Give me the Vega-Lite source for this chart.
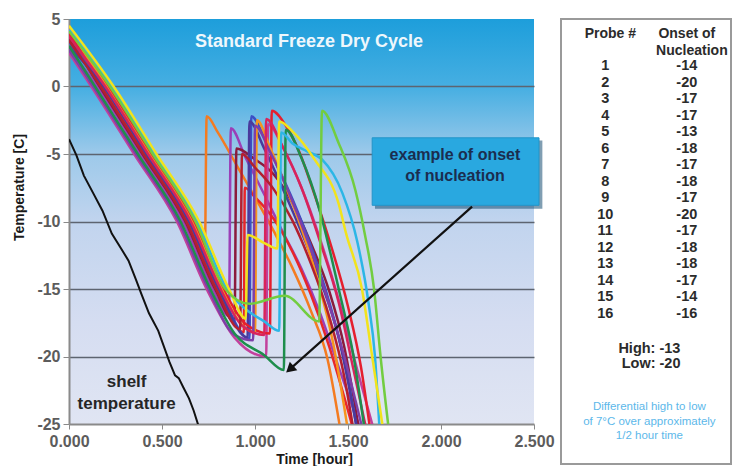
{
  "$schema": "https://vega.github.io/schema/vega-lite/v6.json",
  "padding": {"left": 12, "top": 11, "right": 0, "bottom": 0},
  "background": "white",
  "spacing": 27,
  "bounds": "flush",
  "config": {"font": "Liberation Sans", "view": {"stroke": null}},
  "datasets": {
    "one": [{}],
    "probes": [
      {"p":"P1","t":0,"T":4.0},{"p":"P1","t":0.06,"T":2.8},{"p":"P1","t":0.175,"T":0},{"p":"P1","t":0.405,"T":-5},{"p":"P1","t":0.635,"T":-10},{"p":"P1","t":0.73,"T":-12.9},{"p":"P1","t":0.74,"T":-2.2},{"p":"P1","t":0.8,"T":-3.4},{"p":"P1","t":0.9,"T":-5.8},{"p":"P1","t":1.0,"T":-8.2},{"p":"P1","t":1.1,"T":-10.7},{"p":"P1","t":1.2,"T":-13.4},{"p":"P1","t":1.3,"T":-16.6},{"p":"P1","t":1.39,"T":-20.2},{"p":"P1","t":1.46,"T":-25.5},
      {"p":"P2","t":0,"T":2.8},{"p":"P2","t":0.153,"T":0},{"p":"P2","t":0.383,"T":-5},{"p":"P2","t":0.613,"T":-10},{"p":"P2","t":0.773,"T":-15},{"p":"P2","t":0.86,"T":-17.0},{"p":"P2","t":0.87,"T":-3.1},{"p":"P2","t":0.95,"T":-5.3},{"p":"P2","t":1.05,"T":-8},{"p":"P2","t":1.15,"T":-10.8},{"p":"P2","t":1.25,"T":-13.5},{"p":"P2","t":1.35,"T":-16.8},{"p":"P2","t":1.45,"T":-20.8},{"p":"P2","t":1.57,"T":-25.5},
      {"p":"P3","t":0,"T":3.6},{"p":"P3","t":0.165,"T":0},{"p":"P3","t":0.395,"T":-5},{"p":"P3","t":0.625,"T":-10},{"p":"P3","t":0.785,"T":-15},{"p":"P3","t":0.89,"T":-17.4},{"p":"P3","t":0.9,"T":-4.6},{"p":"P3","t":1.0,"T":-5.4},{"p":"P3","t":1.1,"T":-6.5},{"p":"P3","t":1.2,"T":-8.6},{"p":"P3","t":1.3,"T":-11.6},{"p":"P3","t":1.4,"T":-15.2},{"p":"P3","t":1.48,"T":-19.3},{"p":"P3","t":1.56,"T":-25.5},
      {"p":"P4","t":0,"T":3.9},{"p":"P4","t":0.18,"T":0},{"p":"P4","t":0.41,"T":-5},{"p":"P4","t":0.64,"T":-10},{"p":"P4","t":0.8,"T":-15},{"p":"P4","t":0.94,"T":-18.2},{"p":"P4","t":0.945,"T":-7.5},{"p":"P4","t":1.0,"T":-8.2},{"p":"P4","t":1.1,"T":-9.8},{"p":"P4","t":1.2,"T":-12.2},{"p":"P4","t":1.3,"T":-15.4},{"p":"P4","t":1.4,"T":-19.3},{"p":"P4","t":1.5,"T":-24},{"p":"P4","t":1.53,"T":-25.5},
      {"p":"P5","t":0,"T":3.3},{"p":"P5","t":0.19,"T":0},{"p":"P5","t":0.42,"T":-5},{"p":"P5","t":0.65,"T":-10},{"p":"P5","t":0.81,"T":-15},{"p":"P5","t":0.97,"T":-18.7},{"p":"P5","t":0.98,"T":-2.2},{"p":"P5","t":1.05,"T":-3.8},{"p":"P5","t":1.1,"T":-5.3},{"p":"P5","t":1.2,"T":-8.3},{"p":"P5","t":1.3,"T":-11.8},{"p":"P5","t":1.4,"T":-16},{"p":"P5","t":1.48,"T":-20.3},{"p":"P5","t":1.55,"T":-25.5},
      {"p":"P6","t":0,"T":3.0},{"p":"P6","t":0.185,"T":0},{"p":"P6","t":0.415,"T":-5},{"p":"P6","t":0.645,"T":-10},{"p":"P6","t":0.805,"T":-15},{"p":"P6","t":0.96,"T":-18.6},{"p":"P6","t":0.97,"T":-2.6},{"p":"P6","t":1.05,"T":-4.6},{"p":"P6","t":1.15,"T":-7.6},{"p":"P6","t":1.25,"T":-10.8},{"p":"P6","t":1.35,"T":-14.3},{"p":"P6","t":1.45,"T":-18.6},{"p":"P6","t":1.55,"T":-25.5},
      {"p":"P7","t":0,"T":2.5},{"p":"P7","t":0.12,"T":0},{"p":"P7","t":0.35,"T":-5},{"p":"P7","t":0.58,"T":-10},{"p":"P7","t":0.74,"T":-15},{"p":"P7","t":0.89,"T":-18.6},{"p":"P7","t":1.06,"T":-20},{"p":"P7","t":1.07,"T":-2.8},{"p":"P7","t":1.15,"T":-4.5},{"p":"P7","t":1.25,"T":-7.5},{"p":"P7","t":1.35,"T":-11.3},{"p":"P7","t":1.45,"T":-15.8},{"p":"P7","t":1.55,"T":-21},{"p":"P7","t":1.64,"T":-25.5},
      {"p":"P8","t":0,"T":4.0},{"p":"P8","t":0.21,"T":0},{"p":"P8","t":0.44,"T":-5},{"p":"P8","t":0.67,"T":-10},{"p":"P8","t":0.83,"T":-15},{"p":"P8","t":0.95,"T":-17.6},{"p":"P8","t":1.08,"T":-18.3},{"p":"P8","t":1.09,"T":-1.8},{"p":"P8","t":1.17,"T":-3},{"p":"P8","t":1.24,"T":-4.9},{"p":"P8","t":1.31,"T":-7.6},{"p":"P8","t":1.4,"T":-11.4},{"p":"P8","t":1.5,"T":-16.3},{"p":"P8","t":1.57,"T":-20.8},{"p":"P8","t":1.62,"T":-25.5},
      {"p":"P13","t":0,"T":4.3},{"p":"P13","t":0.2,"T":0},{"p":"P13","t":0.43,"T":-5},{"p":"P13","t":0.66,"T":-10},{"p":"P13","t":0.82,"T":-15},{"p":"P13","t":0.92,"T":-17.5},{"p":"P13","t":1.0,"T":-18.2},{"p":"P13","t":1.01,"T":-2.5},{"p":"P13","t":1.08,"T":-4.5},{"p":"P13","t":1.16,"T":-7.2},{"p":"P13","t":1.25,"T":-10.5},{"p":"P13","t":1.33,"T":-14},{"p":"P13","t":1.42,"T":-19},{"p":"P13","t":1.5,"T":-25.5},
      {"p":"P14","t":0,"T":2.7},{"p":"P14","t":0.13,"T":0},{"p":"P14","t":0.36,"T":-5},{"p":"P14","t":0.59,"T":-10},{"p":"P14","t":0.75,"T":-15},{"p":"P14","t":0.89,"T":-18.4},{"p":"P14","t":0.99,"T":-18.8},{"p":"P14","t":1.0,"T":-2.9},{"p":"P14","t":1.08,"T":-4.8},{"p":"P14","t":1.18,"T":-7.8},{"p":"P14","t":1.28,"T":-11.3},{"p":"P14","t":1.38,"T":-15.3},{"p":"P14","t":1.48,"T":-20},{"p":"P14","t":1.58,"T":-25.5},
      {"p":"P15","t":0,"T":3.7},{"p":"P15","t":0.195,"T":0},{"p":"P15","t":0.425,"T":-5},{"p":"P15","t":0.655,"T":-10},{"p":"P15","t":0.815,"T":-15},{"p":"P15","t":0.93,"T":-17.7},{"p":"P15","t":1.05,"T":-18.4},{"p":"P15","t":1.06,"T":-2.4},{"p":"P15","t":1.15,"T":-4.5},{"p":"P15","t":1.25,"T":-7.5},{"p":"P15","t":1.35,"T":-11.5},{"p":"P15","t":1.45,"T":-16},{"p":"P15","t":1.53,"T":-21},{"p":"P15","t":1.6,"T":-25.5},
      {"p":"P16","t":0,"T":3.4},{"p":"P16","t":0.17,"T":0},{"p":"P16","t":0.4,"T":-5},{"p":"P16","t":0.63,"T":-10},{"p":"P16","t":0.79,"T":-15},{"p":"P16","t":0.92,"T":-18},{"p":"P16","t":0.93,"T":-5.0},{"p":"P16","t":1.0,"T":-6.0},{"p":"P16","t":1.1,"T":-7.6},{"p":"P16","t":1.2,"T":-9.9},{"p":"P16","t":1.3,"T":-13.1},{"p":"P16","t":1.4,"T":-17.1},{"p":"P16","t":1.48,"T":-21.5},{"p":"P16","t":1.53,"T":-25.5},
      {"p":"P11","t":0,"T":3.0},{"p":"P11","t":0.14,"T":0},{"p":"P11","t":0.37,"T":-5},{"p":"P11","t":0.6,"T":-10},{"p":"P11","t":0.76,"T":-15},{"p":"P11","t":0.89,"T":-18.3},{"p":"P11","t":1.05,"T":-19.9},{"p":"P11","t":1.155,"T":-21},{"p":"P11","t":1.165,"T":-3.2},{"p":"P11","t":1.25,"T":-5.3},{"p":"P11","t":1.35,"T":-9.3},{"p":"P11","t":1.45,"T":-15},{"p":"P11","t":1.53,"T":-20},{"p":"P11","t":1.59,"T":-25.5},
      {"p":"P10","t":0,"T":4.2},{"p":"P10","t":0.23,"T":0},{"p":"P10","t":0.46,"T":-5},{"p":"P10","t":0.69,"T":-10},{"p":"P10","t":0.85,"T":-15},{"p":"P10","t":0.95,"T":-16.5},{"p":"P10","t":1.05,"T":-17.4},{"p":"P10","t":1.13,"T":-18.1},{"p":"P10","t":1.14,"T":-3.4},{"p":"P10","t":1.2,"T":-4.2},{"p":"P10","t":1.28,"T":-4.8},{"p":"P10","t":1.36,"T":-5.4},{"p":"P10","t":1.47,"T":-7.9},{"p":"P10","t":1.55,"T":-11.5},{"p":"P10","t":1.61,"T":-16},{"p":"P10","t":1.645,"T":-20},{"p":"P10","t":1.67,"T":-25.5},
      {"p":"P9","t":0,"T":4.5},{"p":"P9","t":0.24,"T":0},{"p":"P9","t":0.47,"T":-5},{"p":"P9","t":0.7,"T":-10},{"p":"P9","t":0.86,"T":-15},{"p":"P9","t":0.95,"T":-17.2},{"p":"P9","t":0.96,"T":-11.0},{"p":"P9","t":1.05,"T":-11.6},{"p":"P9","t":1.12,"T":-12.0},{"p":"P9","t":1.13,"T":-2.6},{"p":"P9","t":1.2,"T":-3.3},{"p":"P9","t":1.32,"T":-5.4},{"p":"P9","t":1.45,"T":-8.7},{"p":"P9","t":1.49,"T":-10.9},{"p":"P9","t":1.575,"T":-15},{"p":"P9","t":1.63,"T":-20},{"p":"P9","t":1.69,"T":-25.5},
      {"p":"P12","t":0,"T":4.1},{"p":"P12","t":0.22,"T":0},{"p":"P12","t":0.45,"T":-5},{"p":"P12","t":0.68,"T":-10},{"p":"P12","t":0.84,"T":-15},{"p":"P12","t":0.97,"T":-16.1},{"p":"P12","t":1.16,"T":-15.5},{"p":"P12","t":1.345,"T":-17.4},{"p":"P12","t":1.36,"T":-1.8},{"p":"P12","t":1.45,"T":-4.2},{"p":"P12","t":1.54,"T":-7.7},{"p":"P12","t":1.59,"T":-10.9},{"p":"P12","t":1.64,"T":-15},{"p":"P12","t":1.675,"T":-20},{"p":"P12","t":1.72,"T":-25.5}
    ],
    "shelf": [
      {"t":0,"T":-3.9},{"t":0.04,"T":-5.1},{"t":0.08,"T":-6.6},{"t":0.13,"T":-7.9},{"t":0.18,"T":-9.2},{"t":0.23,"T":-10.9},{"t":0.28,"T":-12},{"t":0.32,"T":-12.9},{"t":0.36,"T":-14.3},{"t":0.39,"T":-15.4},{"t":0.43,"T":-16.8},{"t":0.48,"T":-18.1},{"t":0.54,"T":-20.4},{"t":0.57,"T":-21.4},{"t":0.59,"T":-21.6},{"t":0.615,"T":-22.3},{"t":0.645,"T":-23.1},{"t":0.67,"T":-24},{"t":0.7,"T":-25.3}
    ],
    "table": [
      {"probe":1,"onset":"-14"},{"probe":2,"onset":"-20"},{"probe":3,"onset":"-17"},{"probe":4,"onset":"-17"},
      {"probe":5,"onset":"-13"},{"probe":6,"onset":"-18"},{"probe":7,"onset":"-17"},{"probe":8,"onset":"-18"},
      {"probe":9,"onset":"-17"},{"probe":10,"onset":"-20"},{"probe":11,"onset":"-17"},{"probe":12,"onset":"-18"},
      {"probe":13,"onset":"-18"},{"probe":14,"onset":"-17"},{"probe":15,"onset":"-14"},{"probe":16,"onset":"-16"}
    ]
  },
  "hconcat": [
    {
      "width": 465,
      "height": 405,
      "view": {
        "stroke": null,
        "fill": {"gradient": "linear", "x1": 0, "y1": 0, "x2": 0, "y2": 1,
          "stops": [
            {"offset": 0, "color": "#1d9edb"},
            {"offset": 0.17, "color": "#47afe2"},
            {"offset": 0.33, "color": "#9cc9ea"},
            {"offset": 0.5, "color": "#c1d4ee"},
            {"offset": 0.75, "color": "#d5ddf1"},
            {"offset": 1, "color": "#e0e5f3"}
          ]}
      },
      "layer": [
        {
          "data": {"name": "probes"},
          "mark": {"type": "line", "strokeWidth": 2.5, "clip": true, "interpolate": "monotone"},
          "encoding": {
            "x": {"field": "t", "type": "quantitative",
              "scale": {"domain": [0, 2.5], "nice": false, "zero": false},
              "axis": {"title": "Time [hour]", "values": [0, 0.5, 1, 1.5, 2, 2.5], "format": ".3f", "labelFlush": false,
                "grid": false, "domainColor": "#8a8a8a", "domainWidth": 2, "tickColor": "#8a8a8a", "tickSize": 5,
                "labelFont": "Liberation Sans", "labelFontSize": 16, "labelFontWeight": "bold", "labelColor": "#5c5c5c", "labelPadding": 4,
                "titleFont": "Liberation Sans", "titleFontSize": 14, "titleFontWeight": "bold", "titleColor": "#1a1a1a", "titlePadding": 3, "titleX": 245}},
            "y": {"field": "T", "type": "quantitative",
              "scale": {"domain": [-25, 5], "nice": false, "zero": false},
              "axis": {"title": "Temperature [C]", "values": [-25, -20, -15, -10, -5, 0, 5], "labelFlush": false,
                "labelExpr": "datum.value < 0 ? '-' + abs(datum.value) : '' + datum.value",
                "grid": true, "gridColor": {"condition": {"test": "datum.value == 5 || datum.value == -25", "value": "transparent"}, "value": "#5d6470"}, "gridWidth": 1.6,
                "domainColor": "#8a8a8a", "domainWidth": 2, "tickColor": "#8a8a8a", "tickSize": 6,
                "labelFont": "Liberation Sans", "labelFontSize": 16, "labelFontWeight": "bold", "labelColor": "#5c5c5c", "labelPadding": 3,
                "titleFont": "Liberation Sans", "titleFontSize": 14, "titleFontWeight": "bold", "titleColor": "#1a1a1a", "titlePadding": 10, "titleY": 168}},
            "color": {"field": "p", "type": "nominal", "legend": null,
              "scale": {"domain": ["P1","P2","P3","P4","P5","P6","P7","P8","P9","P10","P11","P12","P13","P14","P15","P16"],
                "range": ["#f47b20","#9b3fb7","#8b1b3d","#e8262a","#3c4fc5","#4a3a9c","#c2409c","#e51f2e","#f2e31c","#2cb6e6","#1e8e4c","#72cd40","#f7941e","#7d3fa8","#d8245b","#b3202f"]}}
          }
        },
        {
          "data": {"name": "shelf"},
          "mark": {"type": "line", "strokeWidth": 2, "color": "#111111", "clip": true},
          "encoding": {
            "x": {"field": "t", "type": "quantitative", "scale": {"domain": [0, 2.5], "nice": false}},
            "y": {"field": "T", "type": "quantitative", "scale": {"domain": [-25, 5], "nice": false}}
          }
        },
        {
          "data": {"name": "one"},
          "mark": {"type": "rect", "fill": "#174f72", "opacity": 0.55},
          "encoding": {
            "x": {"datum": 1.645, "type": "quantitative", "scale": {"domain": [0, 2.5], "nice": false}},
            "x2": {"datum": 2.545},
            "y": {"datum": -4.0, "type": "quantitative", "scale": {"domain": [-25, 5], "nice": false}},
            "y2": {"datum": -9.05}
          }
        },
        {
          "data": {"name": "one"},
          "mark": {"type": "rect", "fill": "#29a8e0", "stroke": "#2394c8", "strokeWidth": 1},
          "encoding": {
            "x": {"datum": 1.63, "type": "quantitative", "scale": {"domain": [0, 2.5], "nice": false}},
            "x2": {"datum": 2.527},
            "y": {"datum": -3.8, "type": "quantitative", "scale": {"domain": [-25, 5], "nice": false}},
            "y2": {"datum": -8.8}
          }
        },
        {
          "data": {"name": "one"},
          "mark": {"type": "text", "font": "Liberation Sans", "fontSize": 16, "fontWeight": "bold", "color": "#1b2d4f", "align": "center", "baseline": "middle"},
          "encoding": {
            "x": {"datum": 2.075, "type": "quantitative", "scale": {"domain": [0, 2.5], "nice": false}},
            "y": {"datum": -5.1, "type": "quantitative", "scale": {"domain": [-25, 5], "nice": false}},
            "text": {"value": "example of onset"}
          }
        },
        {
          "data": {"name": "one"},
          "mark": {"type": "text", "font": "Liberation Sans", "fontSize": 16, "fontWeight": "bold", "color": "#1b2d4f", "align": "center", "baseline": "middle"},
          "encoding": {
            "x": {"datum": 2.075, "type": "quantitative", "scale": {"domain": [0, 2.5], "nice": false}},
            "y": {"datum": -6.6, "type": "quantitative", "scale": {"domain": [-25, 5], "nice": false}},
            "text": {"value": "of nucleation"}
          }
        },
        {
          "data": {"name": "one"},
          "mark": {"type": "rule", "color": "#111111", "strokeWidth": 2.2},
          "encoding": {
            "x": {"datum": 2.167, "type": "quantitative", "scale": {"domain": [0, 2.5], "nice": false}},
            "y": {"datum": -8.9, "type": "quantitative", "scale": {"domain": [-25, 5], "nice": false}},
            "x2": {"datum": 1.194},
            "y2": {"datum": -20.86}
          }
        },
        {
          "data": {"name": "one"},
          "mark": {"type": "point", "shape": "triangle", "filled": true, "color": "#111111", "size": 130, "angle": 228.6, "opacity": 1},
          "encoding": {
            "x": {"datum": 1.194, "type": "quantitative", "scale": {"domain": [0, 2.5], "nice": false}},
            "y": {"datum": -20.86, "type": "quantitative", "scale": {"domain": [-25, 5], "nice": false}}
          }
        },
        {
          "data": {"name": "one"},
          "mark": {"type": "text", "font": "Liberation Sans", "fontSize": 18, "fontWeight": "bold", "color": "#eef7fc", "align": "center", "baseline": "middle"},
          "encoding": {
            "x": {"datum": 1.29, "type": "quantitative", "scale": {"domain": [0, 2.5], "nice": false}},
            "y": {"datum": 3.3, "type": "quantitative", "scale": {"domain": [-25, 5], "nice": false}},
            "text": {"value": "Standard Freeze Dry Cycle"}
          }
        },
        {
          "data": {"name": "one"},
          "mark": {"type": "text", "font": "Liberation Sans", "fontSize": 17, "fontWeight": "bold", "color": "#262626", "align": "center", "baseline": "middle"},
          "encoding": {
            "x": {"datum": 0.31, "type": "quantitative", "scale": {"domain": [0, 2.5], "nice": false}},
            "y": {"datum": -21.9, "type": "quantitative", "scale": {"domain": [-25, 5], "nice": false}},
            "text": {"value": "shelf"}
          }
        },
        {
          "data": {"name": "one"},
          "mark": {"type": "text", "font": "Liberation Sans", "fontSize": 17, "fontWeight": "bold", "color": "#262626", "align": "center", "baseline": "middle"},
          "encoding": {
            "x": {"datum": 0.31, "type": "quantitative", "scale": {"domain": [0, 2.5], "nice": false}},
            "y": {"datum": -23.5, "type": "quantitative", "scale": {"domain": [-25, 5], "nice": false}},
            "text": {"value": "temperature"}
          }
        }
      ]
    },
    {
      "width": 170,
      "height": 445,
      "view": {"fill": "white", "stroke": "#9a9a9a", "strokeWidth": 2},
      "layer": [
        {
          "data": {"name": "table"},
          "mark": {"type": "text", "font": "Liberation Sans", "fontSize": 14.5, "fontWeight": "bold", "color": "#2b2b2b", "align": "center", "baseline": "middle"},
          "encoding": {
            "x": {"datum": 0.26, "type": "quantitative", "scale": {"domain": [0, 1]}, "axis": null},
            "y": {"field": "probe", "type": "quantitative", "scale": {"domain": [-1.85, 25.12], "reverse": true, "nice": false, "zero": false}, "axis": null},
            "text": {"field": "probe", "type": "quantitative"}
          }
        },
        {
          "data": {"name": "table"},
          "mark": {"type": "text", "font": "Liberation Sans", "fontSize": 14.5, "fontWeight": "bold", "color": "#2b2b2b", "align": "center", "baseline": "middle"},
          "encoding": {
            "x": {"datum": 0.74, "type": "quantitative", "scale": {"domain": [0, 1]}, "axis": null},
            "y": {"field": "probe", "type": "quantitative", "scale": {"domain": [-1.85, 25.12], "reverse": true, "nice": false, "zero": false}, "axis": null},
            "text": {"field": "onset", "type": "nominal"}
          }
        },
        {
          "data": {"name": "one"},
          "mark": {"type": "text", "font": "Liberation Sans", "fontSize": 14, "fontWeight": "bold", "color": "#2b2b2b", "align": "center", "baseline": "middle"},
          "encoding": {
            "x": {"datum": 0.29, "type": "quantitative", "scale": {"domain": [0, 1]}},
            "y": {"datum": -0.94, "type": "quantitative", "scale": {"domain": [-1.85, 25.12], "reverse": true, "nice": false, "zero": false}},
            "text": {"value": "Probe #"}
          }
        },
        {
          "data": {"name": "one"},
          "mark": {"type": "text", "font": "Liberation Sans", "fontSize": 14, "fontWeight": "bold", "color": "#2b2b2b", "align": "center", "baseline": "middle"},
          "encoding": {
            "x": {"datum": 0.74, "type": "quantitative", "scale": {"domain": [0, 1]}},
            "y": {"datum": -0.94, "type": "quantitative", "scale": {"domain": [-1.85, 25.12], "reverse": true, "nice": false, "zero": false}},
            "text": {"value": "Onset of"}
          }
        },
        {
          "data": {"name": "one"},
          "mark": {"type": "text", "font": "Liberation Sans", "fontSize": 14, "fontWeight": "bold", "color": "#2b2b2b", "align": "center", "baseline": "middle"},
          "encoding": {
            "x": {"datum": 0.77, "type": "quantitative", "scale": {"domain": [0, 1]}},
            "y": {"datum": 0.09, "type": "quantitative", "scale": {"domain": [-1.85, 25.12], "reverse": true, "nice": false, "zero": false}},
            "text": {"value": "Nucleation"}
          }
        },
        {
          "data": {"name": "one"},
          "mark": {"type": "text", "font": "Liberation Sans", "fontSize": 14.5, "fontWeight": "bold", "color": "#2b2b2b", "align": "center", "baseline": "middle"},
          "encoding": {
            "x": {"datum": 0.52, "type": "quantitative", "scale": {"domain": [0, 1]}},
            "y": {"datum": 18.15, "type": "quantitative", "scale": {"domain": [-1.85, 25.12], "reverse": true, "nice": false, "zero": false}},
            "text": {"value": "High:  -13"}
          }
        },
        {
          "data": {"name": "one"},
          "mark": {"type": "text", "font": "Liberation Sans", "fontSize": 14.5, "fontWeight": "bold", "color": "#2b2b2b", "align": "center", "baseline": "middle"},
          "encoding": {
            "x": {"datum": 0.53, "type": "quantitative", "scale": {"domain": [0, 1]}},
            "y": {"datum": 19.06, "type": "quantitative", "scale": {"domain": [-1.85, 25.12], "reverse": true, "nice": false, "zero": false}},
            "text": {"value": "Low:  -20"}
          }
        },
        {
          "data": {"name": "one"},
          "mark": {"type": "text", "font": "Liberation Sans", "fontSize": 11.5, "color": "#5cb8ea", "align": "center", "baseline": "middle"},
          "encoding": {
            "x": {"datum": 0.52, "type": "quantitative", "scale": {"domain": [0, 1]}},
            "y": {"datum": 21.67, "type": "quantitative", "scale": {"domain": [-1.85, 25.12], "reverse": true, "nice": false, "zero": false}},
            "text": {"value": "Differential high to low"}
          }
        },
        {
          "data": {"name": "one"},
          "mark": {"type": "text", "font": "Liberation Sans", "fontSize": 11.5, "color": "#5cb8ea", "align": "center", "baseline": "middle"},
          "encoding": {
            "x": {"datum": 0.52, "type": "quantitative", "scale": {"domain": [0, 1]}},
            "y": {"datum": 22.58, "type": "quantitative", "scale": {"domain": [-1.85, 25.12], "reverse": true, "nice": false, "zero": false}},
            "text": {"value": "of 7°C over approximately"}
          }
        },
        {
          "data": {"name": "one"},
          "mark": {"type": "text", "font": "Liberation Sans", "fontSize": 11.5, "color": "#5cb8ea", "align": "center", "baseline": "middle"},
          "encoding": {
            "x": {"datum": 0.52, "type": "quantitative", "scale": {"domain": [0, 1]}},
            "y": {"datum": 23.42, "type": "quantitative", "scale": {"domain": [-1.85, 25.12], "reverse": true, "nice": false, "zero": false}},
            "text": {"value": "1/2 hour time"}
          }
        }
      ]
    }
  ]
}
